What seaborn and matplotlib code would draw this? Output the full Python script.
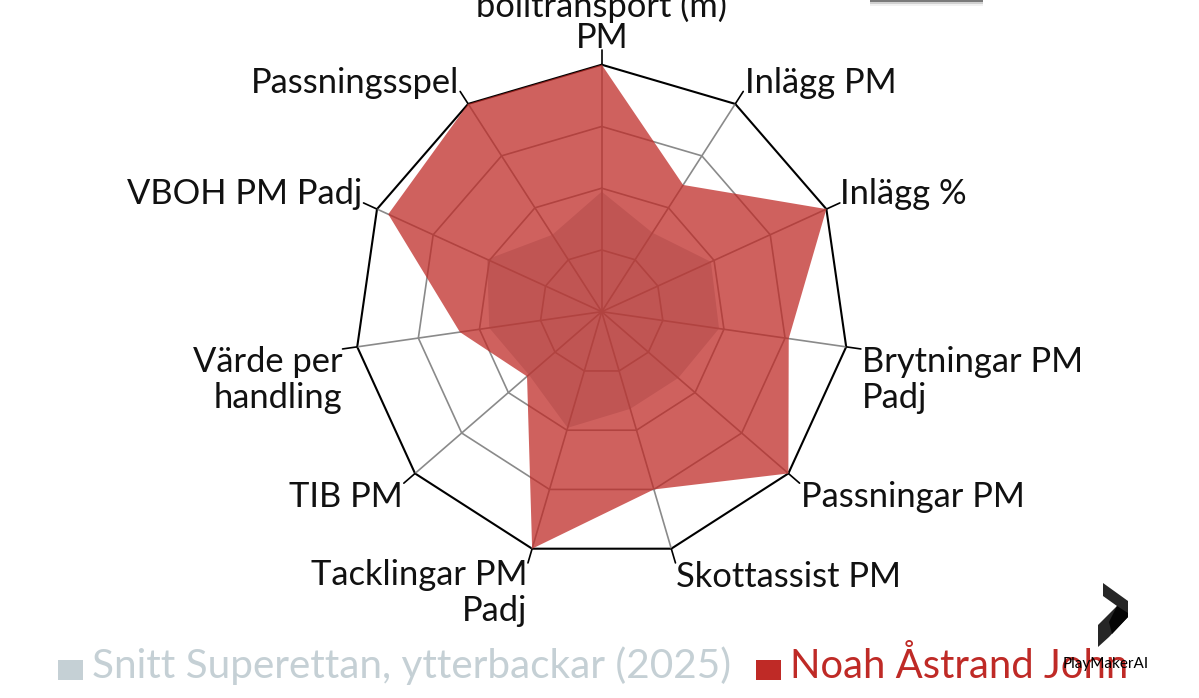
"""Радар: Noah Åstrand John против среднего по Superettan."""

import numpy as np
import matplotlib.pyplot as plt
from matplotlib.patches import Polygon, Rectangle
import seaborn as sns

categories = ['bolltransport (m)\nPM', 'Inlägg PM', 'Inlägg %', 'Brytningar PM\nPadj',
              'Passningar PM', 'Skottassist PM', 'Tacklingar PM\nPadj', 'TIB PM',
              'Värde per\nhandling', 'VBOH PM Padj', 'Passningsspel']
snitt_values = [48.6, 38, 48.6, 48, 41, 41, 49, 39, 46, 51, 37]
noah_values = [100, 61, 100, 76.5, 100, 75, 100, 40, 58, 95, 100]
ring_levels = [25, 50, 75, 100]

W, H = 1199, 698
CX, CY, R = 601.7, 311.7, 247
FONT = 'Lato'
GREY_TXT = '#c5d0d5'
RED = '#bf2a26'

sns.set_theme(style='white')
plt.rcParams['font.family'] = [FONT, 'DejaVu Sans']

fig = plt.figure(figsize=(W / 100, H / 100), dpi=100, facecolor='white')
ax = fig.add_axes([(CX - R) / W, (H - CY - R) / H, 2 * R / W, 2 * R / H], projection='polar')
ax.set_theta_zero_location('N')
ax.set_theta_direction(-1)

n = len(categories)
theta = 2 * np.pi * np.arange(n) / n
theta_closed = np.append(theta, 2 * np.pi)


def closed(values):
    return np.append(values, values[0])


# -- сетка --
for level in ring_levels:
    sns.lineplot(x=theta_closed, y=np.full(n + 1, level), ax=ax, sort=False, estimator=None,
                 color='black' if level == 100 else '#8a8a8a',
                 linewidth=1.5 if level == 100 else 1.2, clip_on=False, zorder=2, legend=False)
for t in theta:
    ax.plot([t, t], [0, 100], color='#8a8a8a', linewidth=1.2, clip_on=False, zorder=2)
    ax.plot([t, t], [100, 106], color='black', linewidth=1.2, clip_on=False, zorder=2)

# -- серии --
ax.fill(theta_closed, closed(snitt_values), color=GREY_TXT, linewidth=0, zorder=1, clip_on=False)
ax.fill(theta_closed, closed(noah_values), color=RED, alpha=0.74, linewidth=0, zorder=3, clip_on=False)
ax.set_ylim(0, 100)
ax.axis('off')

# -- подписи: смещение от вершины в пикселях --
offsets = [(0, 43), (10, 21), (14, 15), (16, -33), (13, -24), (5, -28),
           (-5, -44), (-12, -24), (-15, -33), (-15, 15), (-9, 21)]
for t, label, (dx, dy) in zip(theta, categories, offsets):
    ha = 'center' if dx == 0 else ('left' if dx > 0 else 'right')
    ax.annotate(label, xy=(t, 100), xytext=(dx, dy), textcoords='offset pixels',
                ha=ha, va='center', multialignment=ha, fontsize=24.8, color='#111111',
                linespacing=0.98 if dx == 0 else 1.15, annotation_clip=False, zorder=5)


def px(x, y):
    return x / W, 1 - y / H


# -- легенда --
fig.add_artist(Rectangle(px(58, 680), 25 / W, 20 / H, transform=fig.transFigure, color=GREY_TXT, lw=0))
fig.text(*px(92, 666), 'Snitt Superettan, ytterbackar (2025)', fontsize=29.2, color=GREY_TXT, va='center')
fig.add_artist(Rectangle(px(756, 680), 25 / W, 20 / H, transform=fig.transFigure, color=RED, lw=0))
fig.text(*px(790, 666), 'Noah Åstrand John', fontsize=28.8, color=RED, va='center')

# -- логотип --
logo = [(1103, 583), (1128, 601), (1128, 617), (1109, 637), (1098, 647), (1098, 625), (1117, 606), (1103, 596)]
logo_dark = [(1117, 606), (1128, 613), (1128, 617), (1112, 634), (1109, 622)]
fig.add_artist(Polygon([px(*p) for p in logo], closed=True, transform=fig.transFigure, color='#262626', lw=0))
fig.add_artist(Polygon([px(*p) for p in logo_dark], closed=True, transform=fig.transFigure, color='#050505', lw=0))
fig.text(*px(1106, 664), 'PlayMakerAI', fontsize=11, color='black', ha='center', va='center')

# -- край карточки сверху --
for (top, bottom, shade) in [(0, 6, '#f1f1f1'), (0, 4, '#d0d0d0'), (0, 2, '#7a7a7a')]:
    fig.add_artist(Rectangle(px(870, bottom), 113 / W, (bottom - top) / H,
                             transform=fig.transFigure, color=shade, lw=0))

fig.savefig('out.png', dpi=100)
